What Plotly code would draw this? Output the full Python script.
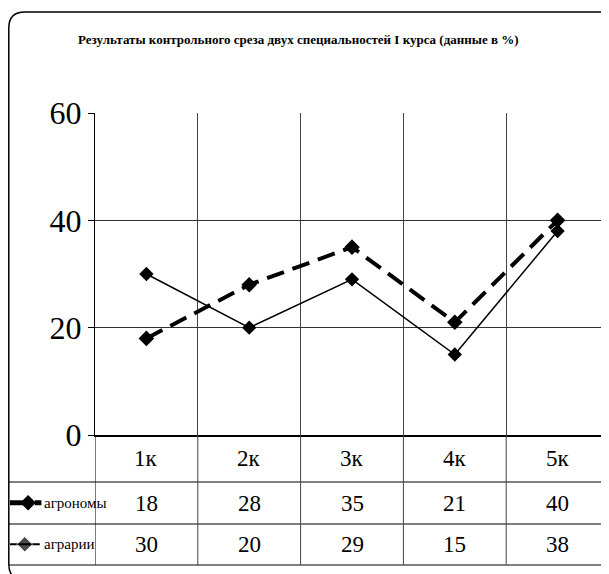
import plotly.graph_objects as go

# page has an 8px body margin; figure is sized to fill the rest of the window
OFF = 8
W, H = 601, 566

title_text = "Результаты контрольного среза двух специальностей I курса (данные в %)"
categories = ["1к", "2к", "3к", "4к", "5к"]
series1_name = "агрономы"
series1_values = [18, 28, 35, 21, 40]
series2_name = "аграрии"
series2_values = [30, 20, 29, 15, 38]
y_ticks = [0, 20, 40, 60]

FONT = "Liberation Serif"


def px(x):
    return (x - OFF) / W


def py(y):
    return 1 - (y - OFF) / H


plot_left, plot_right, plot_top, plot_bottom = 95, 609, 113, 435
table_rows = [435, 482, 524, 565]
frame_left = 8.8

xs = [i + 0.5 for i in range(len(categories))]

s1_line = dict(color="black", width=4, dash="18px,9px")
s1_marker = dict(symbol="diamond", size=12, color="black")
s2_line = dict(color="black", width=1.5)
s2_marker = dict(symbol="diamond", size=11, color="black")

fig = go.Figure()
fig.add_trace(go.Scatter(x=xs, y=series1_values, name=series1_name, mode="lines+markers",
                         line=s1_line, marker=s1_marker))
fig.add_trace(go.Scatter(x=xs, y=series2_values, name=series2_name, mode="lines+markers",
                         line=s2_line, marker=s2_marker))

# legend keys inside the data table (own small axis: rows 0..2)
fig.add_trace(go.Scatter(x=[0.0, 0.22], y=[1.5, 1.5], mode="lines", line=dict(color="black", width=5),
                         xaxis="x2", yaxis="y2", hoverinfo="skip"))
fig.add_trace(go.Scatter(x=[0.3, 0.38], y=[1.5, 1.5], mode="lines", line=dict(color="black", width=5),
                         xaxis="x2", yaxis="y2", hoverinfo="skip"))
fig.add_trace(go.Scatter(x=[0.22], y=[1.5], mode="markers", marker=s1_marker,
                         xaxis="x2", yaxis="y2", hoverinfo="skip"))
fig.add_trace(go.Scatter(x=[0.0, 0.18, 0.36], y=[0.5] * 3, mode="lines+markers",
                         line=dict(color="black", width=2),
                         marker=dict(symbol="diamond", size=[0, 12, 0], color="black"),
                         xaxis="x2", yaxis="y2", hoverinfo="skip"))

shapes = []
r = 16
x0, y0, x1, y1 = frame_left, 12, 640, 580
path = (f"M {px(x0)},{py(y0 + r)} Q {px(x0)},{py(y0)} {px(x0 + r)},{py(y0)} "
        f"L {px(x1)},{py(y0)} L {px(x1)},{py(y1)} L {px(x0 + r)},{py(y1)} "
        f"Q {px(x0)},{py(y1)} {px(x0)},{py(y1 - r)} Z")
shapes.append(dict(type="path", xref="paper", yref="paper", path=path,
                   line=dict(color="black", width=1.5), layer="below"))
for yy in table_rows[1:]:
    shapes.append(dict(type="line", xref="paper", yref="paper",
                       x0=px(frame_left), x1=1, y0=py(yy), y1=py(yy),
                       line=dict(color="black", width=1)))
for i in range(len(categories) + 1):
    shapes.append(dict(type="line", xref="x", yref="paper",
                       x0=i, x1=i, y0=py(table_rows[0]), y1=py(table_rows[-1]),
                       line=dict(color="black" if i == 0 else "#444", width=1)))

annotations = [dict(
    text=f"<b>{title_text}</b>", x=px(298), y=py(40), xref="paper", yref="paper",
    showarrow=False, font=dict(family=FONT, size=13, color="black"),
    xanchor="center", yanchor="middle")]

row_centers = [(table_rows[k] + table_rows[k + 1]) / 2 for k in range(3)]
for i, cat in enumerate(categories):
    for k, txt in enumerate([cat, str(series1_values[i]), str(series2_values[i])]):
        annotations.append(dict(text=txt, x=xs[i], y=py(row_centers[k]), xref="x", yref="paper",
                                xanchor="center", yanchor="middle",
                                showarrow=False, font=dict(family=FONT, size=23, color="black")))
for name, yy in [(series1_name, 1.5), (series2_name, 0.5)]:
    annotations.append(dict(text=name, x=0.39, y=yy, xref="x2", yref="y2", xanchor="left",
                            yanchor="middle",
                            showarrow=False, font=dict(family=FONT, size=15, color="black")))

fig.update_layout(
    width=W, height=H,
    margin=dict(l=0, r=0, t=0, b=0, autoexpand=False),
    paper_bgcolor="white", plot_bgcolor="white",
    showlegend=False,
    xaxis=dict(domain=[px(plot_left), px(plot_right)], range=[0, len(categories)],
               tickvals=list(range(len(categories) + 1)), showticklabels=False,
               showgrid=True, gridcolor="#444", gridwidth=1, ticks="",
               showline=True, linecolor="black", linewidth=2, zeroline=False,
               fixedrange=True),
    yaxis=dict(domain=[py(plot_bottom), py(plot_top)], range=[0, 60],
               tickvals=y_ticks, ticks="outside", ticklen=6, tickcolor="black",
               tickfont=dict(family=FONT, size=32, color="black"),
               showgrid=True, gridcolor="#333", gridwidth=1,
               showline=True, linecolor="black", linewidth=1, zeroline=False,
               fixedrange=True, automargin=False),
    xaxis2=dict(domain=[px(frame_left + 1), px(plot_left - 2)], range=[0, 1], visible=False,
                fixedrange=True, anchor="y2"),
    yaxis2=dict(domain=[py(table_rows[-1]), py(table_rows[1])], range=[0, 2], visible=False,
                fixedrange=True, anchor="x2"),
    shapes=shapes,
    annotations=annotations,
)

fig.write_html("out.html")
